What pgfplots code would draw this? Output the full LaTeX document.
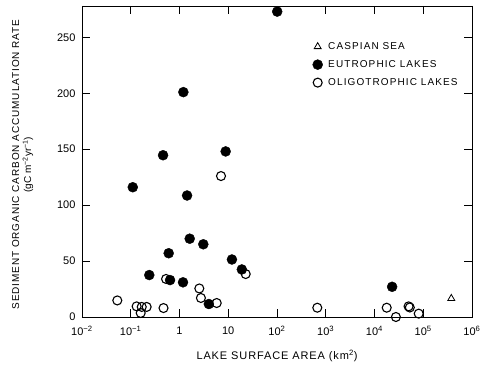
\documentclass[border=0pt]{standalone}
\usepackage{fontspec}
\setmainfont{Liberation Sans}
\usepackage{pgfplots}
\pgfplotsset{compat=1.18}
\newfontfamily\ylbl[LetterSpace=9]{Liberation Sans}
\newfontfamily\xlbl[LetterSpace=8]{Liberation Sans}
\newfontfamily\lglbl[LetterSpace=11]{Liberation Sans}
\begin{document}
\begin{tikzpicture}
\begin{axis}[
  name=ax,
  scale only axis, width=390pt, height=311pt,
  xmode=log, xmin=1e-2, xmax=1e6, ymin=0, ymax=278,
  xminorticks=false,
  xtick={1e-2,1e-1,1,10,100,1e3,1e4,1e5,1e6},
  xticklabels={10\textsuperscript{−2},10\textsuperscript{−1},1,10,10\textsuperscript{2},10\textsuperscript{3},10\textsuperscript{4},10\textsuperscript{5},10\textsuperscript{6}},
  ytick={0,50,100,150,200,250},
  /pgf/number format/assume math mode=true,
  tick align=inside, major tick length=8pt,
  tick style={black, line width=0.8pt},
  axis line style={line width=0.9pt},
  ticklabel style={font=\fontsize{11}{12}\selectfont},
  yticklabel style={xshift=-3pt},
  xticklabel style={yshift=-6pt},
  xlabel={\xlbl\fontsize{11}{12}\selectfont LAKE SURFACE AREA (km\textsuperscript{2})},
  ylabel={\ylbl\fontsize{10}{14}\selectfont SEDIMENT ORGANIC CARBON ACCUMULATION RATE\\(gC m\textsuperscript{−2}yr\textsuperscript{−1})},
  ylabel style={align=center, at={(axis description cs:-0.152,0.49)}, anchor=center},
  xlabel style={at={(axis description cs:0.5,-0.125)}, anchor=center},
  legend style={at={(0.591,0.89)}, anchor=north west, draw=none, fill=none,
    font=\lglbl\fontsize{10}{11}\selectfont, row sep=5.5pt, inner sep=0pt},
  legend cell align=left,
  legend image code/.code={\draw[mark repeat=2,mark phase=2,#1] plot coordinates {(0cm,0cm) (0.2cm,0cm) (0.4cm,0cm)};\path (0.2cm,0cm) ++(8pt,0pt);},
]
\addplot[only marks, mark=triangle, mark size=4pt, black, line width=0.8pt] coordinates {(3.76e5,16.6)};
\addlegendentry{CASPIAN SEA}
\addplot[only marks, mark=*, mark size=5pt, black] coordinates {
(0.11,116) (0.46,144.6) (8.85,148) (1.43,108.6) (1.62,70) (3.08,65)
(0.6,57) (11.9,51.4) (19,42.5) (0.24,37.5) (0.64,33) (1.18,31)
(4.0,11.6) (1.2,201) (101,273) (2.3e4,27)
};
\addlegendentry{EUTROPHIC LAKES}
\addplot[only marks, mark=o, mark size=4.5pt, black, line width=1.1pt] coordinates {
(0.053,14.8) (0.132,9.5) (0.168,9) (0.212,9) (0.16,3.6) (0.47,8)
(0.53,34) (2.55,25.5) (2.75,17) (5.8,12.5) (7.1,126) (22.8,38.4)
(671,8.3) (1.78e4,8.3) (2.75e4,0) (5.0e4,9.5) (5.3e4,8.5) (8.07e4,3)
};
\addlegendentry{OLIGOTROPHIC LAKES}
\end{axis}
\pgfresetboundingbox
\path[use as bounding box] ([xshift=-82pt,yshift=-51pt]ax.south west) rectangle ([xshift=9pt,yshift=6pt]ax.north east);
\end{tikzpicture}
\end{document}
